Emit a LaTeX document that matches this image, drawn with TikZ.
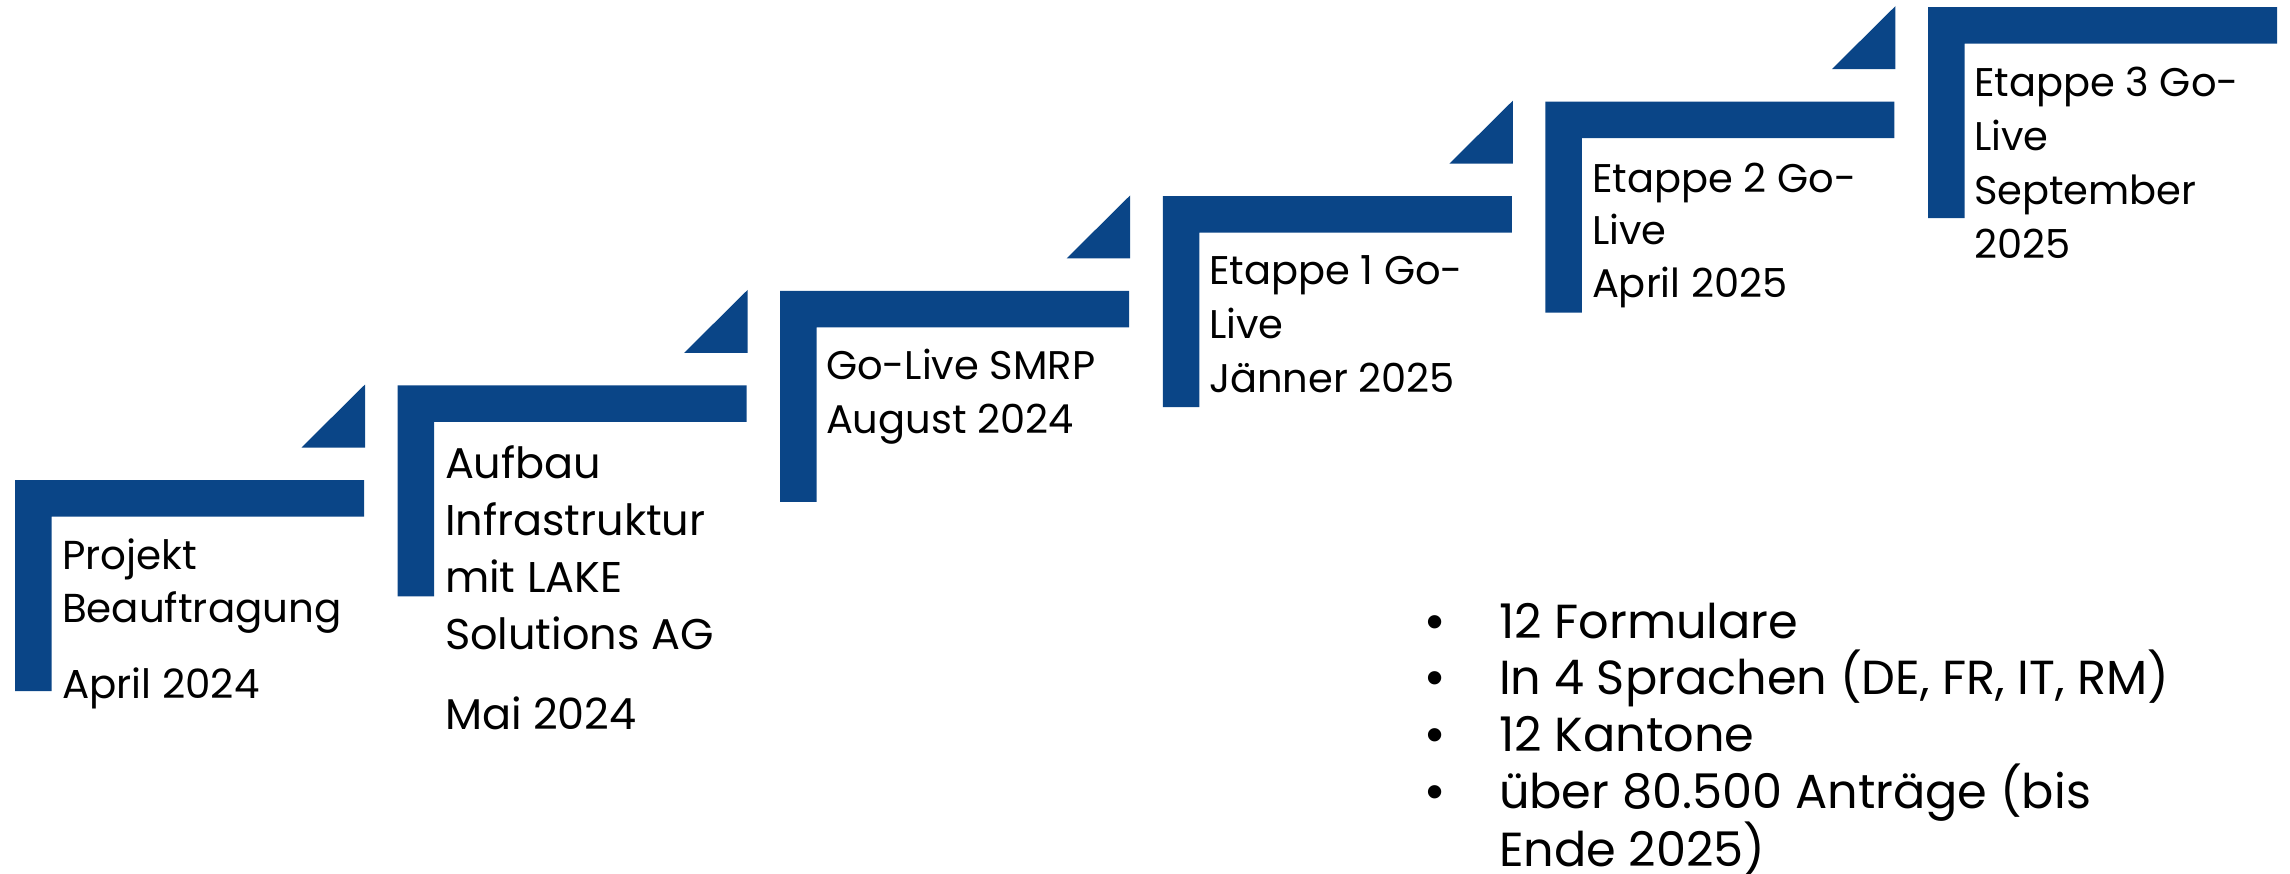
\documentclass[tikz,border=0pt]{standalone}
\usepackage{fontspec}
\setmainfont{Poppins}
\newfontfamily\bulfont{Liberation Sans}
\definecolor{stepblue}{RGB}{10,69,135}
\tikzset{
  stepbar/.style={fill=stepblue, draw=none},
  steptext/.style={anchor=base west, inner sep=0pt, outer sep=0pt, text=black},
}
\newcommand\stepblock[3]{\parbox[t]{420pt}{\raggedright\fontsize{#1}{#2}\selectfont #3}}
\newcommand\bul{\leavevmode\llap{\makebox[73pt][l]{\bulfont\fontsize{49}{49}\selectfont\textbullet}}}
\begin{document}
\begin{tikzpicture}[x=1pt,y=-1pt]
\useasboundingbox (0,0) rectangle (2290,873);
% L-shaped steps and triangles
\foreach \i in {0,...,5}{
  \pgfmathsetmacro\xo{15+382.6*\i}
  \pgfmathsetmacro\yo{480-94.6*\i}
  \fill[stepbar] (\xo,\yo) -- ++(349,0) -- ++(0,36.5) -- ++(-312.5,0) -- ++(0,174.5) -- ++(-36.5,0) -- cycle;
}
\foreach \i in {0,...,4}{
  \pgfmathsetmacro\xo{15+382.6*\i}
  \pgfmathsetmacro\yo{480-94.6*\i}
  \fill[stepbar] (\xo+286.5,\yo-32.5) -- (\xo+350,\yo-32.5) -- (\xo+350,\yo-95.5) -- cycle;
}
% texts
\node[steptext] (t1) at (62,569) {\stepblock{40.4}{53pt}{Projekt\\Beauftragung\\[23pt]April 2024}};
\node[steptext] (t2) at (445,478) {\stepblock{43}{57pt}{Aufbau\\Infrastruktur\\mit LAKE\\Solutions AG\\[23pt]Mai 2024}};
\node[steptext] (t3) at (826,379) {\stepblock{40}{54pt}{Go-Live SMRP\\August 2024}};
\node[steptext] (t4) at (1209,284) {\stepblock{40}{54pt}{Etappe 1 Go-\\Live\\Jänner 2025}};
\node[steptext] (t5) at (1592,192) {\stepblock{40}{52.5pt}{Etappe 2 Go-\\Live\\April 2025}};
\node[steptext] (t6) at (1974,96) {\stepblock{40}{54pt}{Etappe 3 Go-\\Live\\September\\2025}};
% bullet list
\node[steptext] (list) at (1499,638) {\parbox[t]{780pt}{\raggedright\fontsize{47.8}{56.8}\selectfont
\bul 12 Formulare\\
\bul In 4 Sprachen (DE, FR, IT, RM)\\
\bul 12 Kantone\\
\bul über 80.500 Anträge (bis\\
\leavevmode Ende 2025)}};
\end{tikzpicture}
\end{document}
